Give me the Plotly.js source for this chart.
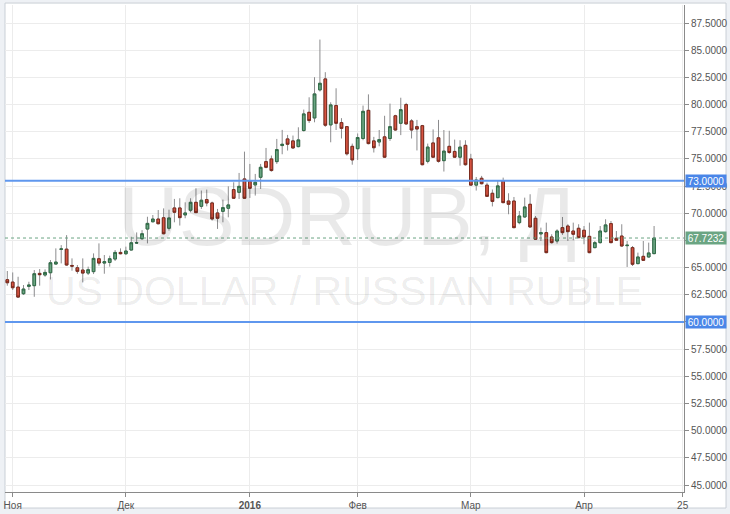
<!DOCTYPE html>
<html>
<head>
<meta charset="utf-8">
<script src="https://cdn.plot.ly/plotly-3.0.1.min.js"></script>
<style>html,body{margin:0;padding:0;background:#eef1f5;}#chart{width:730px;height:514px;}</style>
</head>
<body>
<div id="chart"></div>
<script>
// Daily USDRUB candles (trading days)
const dates = [
'2015-10-30',
'2015-11-02','2015-11-03','2015-11-04','2015-11-05','2015-11-06','2015-11-09','2015-11-10','2015-11-11','2015-11-12','2015-11-13',
'2015-11-16','2015-11-17','2015-11-18','2015-11-19','2015-11-20','2015-11-23','2015-11-24','2015-11-25','2015-11-26','2015-11-27','2015-11-30',
'2015-12-01','2015-12-02','2015-12-03','2015-12-04','2015-12-07','2015-12-08','2015-12-09','2015-12-10','2015-12-11','2015-12-14',
'2015-12-15','2015-12-16','2015-12-17','2015-12-18','2015-12-21','2015-12-22','2015-12-23','2015-12-24','2015-12-25','2015-12-28',
'2015-12-29','2015-12-30','2015-12-31',
'2016-01-04','2016-01-05','2016-01-06','2016-01-07','2016-01-08','2016-01-11','2016-01-12','2016-01-13','2016-01-14','2016-01-15',
'2016-01-18','2016-01-19','2016-01-20','2016-01-21','2016-01-22','2016-01-25','2016-01-26','2016-01-27','2016-01-28','2016-01-29',
'2016-02-01','2016-02-02','2016-02-03','2016-02-04','2016-02-05','2016-02-08','2016-02-09','2016-02-10','2016-02-11','2016-02-12',
'2016-02-15','2016-02-16','2016-02-17','2016-02-18','2016-02-19','2016-02-22','2016-02-23','2016-02-24','2016-02-25','2016-02-26','2016-02-29',
'2016-03-01','2016-03-02','2016-03-03','2016-03-04','2016-03-09','2016-03-10','2016-03-11','2016-03-14','2016-03-15','2016-03-16',
'2016-03-17','2016-03-18','2016-03-21','2016-03-22','2016-03-23','2016-03-24','2016-03-25','2016-03-28','2016-03-29','2016-03-30','2016-03-31',
'2016-04-01','2016-04-04','2016-04-05','2016-04-06','2016-04-07','2016-04-08','2016-04-11','2016-04-12','2016-04-13','2016-04-14',
'2016-04-15','2016-04-18','2016-04-19','2016-04-20'
];
const openP = [
63.89,63.67,63.21,62.60,63.28,63.34,64.47,64.32,64.53,65.33,
66.68,66.70,65.20,64.99,64.78,64.50,64.63,65.82,65.42,65.48,
65.79,66.40,66.28,66.62,67.26,67.66,68.55,69.22,69.47,69.59,
68.62,70.49,70.49,69.85,70.28,71.01,70.64,71.26,70.95,70.03,
70.18,70.46,72.18,71.93,73.16,72.94,72.61,73.31,74.75,75.00,
74.75,76.23,76.84,76.66,76.13,77.61,79.29,78.77,81.35,82.36,
78.13,79.91,78.34,77.97,76.16,75.94,76.88,79.47,76.66,76.56,
77.03,76.88,78.97,78.28,80.00,78.50,77.97,78.06,74.78,76.47,
76.94,74.84,76.16,75.69,75.16,76.25,75.00,72.59,73.22,72.59,
71.84,71.44,72.98,71.13,71.13,69.14,69.66,70.83,69.54,68.10,
68.22,67.82,67.45,68.68,68.83,68.37,68.62,68.44,67.88,66.84,
67.30,68.31,69.05,67.70,67.91,67.02,66.84,65.37,66.04,65.98,
66.29
];
const highP = [
64.69,64.56,64.16,63.40,63.70,64.78,64.87,64.84,65.70,66.77,
67.07,67.99,65.85,65.24,65.85,65.09,66.31,67.23,66.16,66.10,
66.62,66.77,66.93,67.84,68.24,68.45,69.68,69.84,70.30,70.45,
70.33,71.32,71.38,71.01,71.38,72.30,72.09,72.18,71.07,70.40,
71.26,72.48,72.85,73.71,75.67,74.54,73.62,74.54,76.01,75.31,
76.84,77.67,77.21,77.15,77.91,79.54,80.67,82.52,85.98,82.98,
80.21,81.50,78.75,78.03,76.41,77.34,79.91,80.94,77.03,77.66,
78.97,80.09,79.06,80.63,80.16,78.66,78.59,78.13,76.41,77.72,
78.59,77.66,77.59,76.78,76.72,76.72,75.47,73.34,73.44,72.81,
72.19,72.98,73.28,71.84,71.50,70.21,71.44,71.75,69.75,68.68,
69.14,68.07,68.53,69.66,68.99,69.14,68.99,68.83,69.14,67.45,
68.83,69.45,69.29,68.37,68.99,67.45,66.99,66.38,67.45,67.30,
68.83
];
const lowP = [
63.34,62.94,62.23,62.48,62.94,62.32,63.34,64.16,63.91,65.30,
65.39,65.17,64.72,64.44,63.64,64.32,64.41,65.18,64.44,65.09,
65.61,66.22,66.16,66.59,67.23,67.57,67.23,69.16,68.98,68.06,
68.40,69.17,68.87,69.54,70.09,70.03,70.40,70.64,69.33,68.56,
69.17,69.63,71.32,71.32,71.32,71.41,71.63,72.24,74.14,73.83,
74.54,75.43,75.77,75.92,76.07,77.52,78.31,78.37,81.20,77.95,
76.53,77.66,76.88,75.31,74.47,74.91,76.72,76.34,75.59,76.16,
75.09,76.66,77.59,77.19,78.13,76.88,75.78,74.41,74.59,75.09,
74.66,73.84,75.47,75.09,74.38,74.38,72.53,72.09,72.66,71.50,
70.63,71.38,70.92,69.91,68.62,68.99,69.60,68.68,67.55,67.45,
66.32,67.21,67.21,68.01,67.45,67.52,67.70,67.15,66.32,66.78,
67.21,68.22,67.24,67.45,66.93,65.06,65.15,65.31,65.61,65.92,
66.23
];
const closeP = [
63.61,63.15,62.29,63.03,63.40,64.44,64.35,64.56,65.45,65.51,
66.72,65.24,65.14,64.66,64.50,64.81,65.85,65.42,65.55,65.82,
66.40,66.28,66.53,67.29,67.29,68.12,69.07,69.47,69.04,68.12,
69.57,70.09,69.60,70.03,71.01,70.06,71.20,70.95,69.48,69.54,
70.52,70.77,71.38,72.48,71.38,72.30,72.85,74.23,74.23,73.93,
75.86,76.35,76.35,76.01,76.75,79.14,78.53,80.98,81.96,78.10,
79.97,78.28,77.81,75.47,74.91,76.97,79.38,76.41,76.03,76.78,
75.16,77.97,77.66,79.53,78.22,77.66,77.75,74.47,76.09,75.16,
74.78,75.72,75.59,75.16,76.09,74.47,72.59,73.06,72.72,71.56,
71.09,72.52,70.98,70.83,68.68,69.75,70.58,68.74,67.61,68.22,
66.38,67.30,68.37,68.22,68.31,68.07,67.76,67.82,66.38,67.30,
68.37,68.93,67.30,67.52,66.99,67.06,65.31,65.98,65.67,66.35,
67.7232
];
const monthTickDates = ['2015-11-02','2015-12-01','2016-01-04','2016-02-01','2016-03-01','2016-04-01'];
const monthTickText = ['Ноя','Дек','<b>2016</b>','Фев','Мар','Апр'];
const extraTickText = '25';
const priceTicks = [45, 47.5, 50, 52.5, 55, 57.5, 60, 62.5, 65, 67.5, 70, 72.5, 75, 77.5, 80, 82.5, 85, 87.5];
const levelLines = [73, 60];
const lastPrice = 67.7232;
const symbolTitle = 'USDRUB, Д';
const symbolName = 'US DOLLAR / RUSSIAN RUBLE';

const xIdx = dates.map((d, i) => i);
const bodyHigh = openP.map((o, i) => Math.max(o, closeP[i]));
const bodyLow = openP.map((o, i) => Math.min(o, closeP[i]));
const tickVals = monthTickDates.map(d => dates.indexOf(d)).concat([125.3]);
const tickText = monthTickText.concat([extraTickText]);
// tick labels fully covered by the price badges are left blank (as in the reference)
const priceTickText = priceTicks.map(v => (v === 60 || v === 67.5) ? '' : v.toFixed(4));

const UP = '#6ba583', DOWN = '#d75442', UPB = '#2f6b46', DOWNB = '#7a2a1d', WICK = '#8c8c8e';
const BLUE = '#4a86e8', BLUELINE = '#5f97ee';
const FONT = 'Liberation Sans, Arial, sans-serif';

const wicks = {
  type: 'candlestick', x: xIdx, open: openP, high: highP, low: lowP, close: closeP,
  increasing: {line: {color: WICK, width: 1}, fillcolor: UP},
  decreasing: {line: {color: WICK, width: 1}, fillcolor: DOWN},
  whiskerwidth: 0, hoverinfo: 'skip', showlegend: false
};
const bodies = {
  type: 'candlestick', x: xIdx, open: openP, high: bodyHigh, low: bodyLow, close: closeP,
  increasing: {line: {color: UPB, width: 1}, fillcolor: UP},
  decreasing: {line: {color: DOWNB, width: 1}, fillcolor: DOWN},
  whiskerwidth: 0, hoverinfo: 'skip', showlegend: false
};

const shapes = [
  {type: 'rect', xref: 'paper', yref: 'paper', x0: 0, x1: 1.0619, y0: -0.0329, y1: 1.004,
   fillcolor: '#ffffff', line: {color: '#c9cfd6', width: 1}, layer: 'below'}
];
levelLines.forEach(v => shapes.push({type: 'line', xref: 'paper', yref: 'y', x0: 0, x1: 1, y0: v, y1: v,
  line: {color: BLUELINE, width: 2}, layer: 'above'}));
shapes.push({type: 'line', xref: 'paper', yref: 'y', x0: 0, x1: 1, y0: lastPrice, y1: lastPrice,
  line: {color: UP, width: 1, dash: 'dot'}, layer: 'above'});

const annotations = [
  {xref: 'paper', yref: 'paper', x: 0.5037, y: 0.566, xanchor: 'center', yanchor: 'middle',
   text: symbolTitle, showarrow: false,
   font: {family: FONT, size: 84, color: 'rgba(0,0,0,0.085)'}},
  {xref: 'paper', yref: 'paper', x: 0.5007, y: 0.412, xanchor: 'center', yanchor: 'middle',
   text: symbolName, showarrow: false,
   font: {family: FONT, size: 41, color: 'rgba(0,0,0,0.085)'}}
];
levelLines.forEach(v => annotations.push({xref: 'paper', yref: 'y', x: 1.0015, y: v, xanchor: 'left', yanchor: 'middle',
  text: v.toFixed(4), showarrow: false, bgcolor: BLUE, width: 40, height: 12, borderpad: 0, align: 'center',
  font: {family: FONT, size: 10, color: '#ffffff'}}));
annotations.push({xref: 'paper', yref: 'y', x: 1.0015, y: lastPrice, xanchor: 'left', yanchor: 'middle',
  text: lastPrice.toFixed(4), showarrow: false, bgcolor: UP, width: 40, height: 12, borderpad: 0, align: 'center',
  font: {family: FONT, size: 10, color: '#ffffff'}});

const layout = {
  width: 730, height: 514,
  margin: {l: 5, r: 46, t: 5, b: 22, pad: 0},
  paper_bgcolor: '#eef1f5', plot_bgcolor: '#ffffff',
  showlegend: false,
  font: {family: FONT, size: 10, color: '#555555'},
  xaxis: {
    type: 'linear', range: [-0.43, 125.55], tickmode: 'array', tickvals: tickVals, ticktext: tickText,
    showgrid: true, gridcolor: '#ececec', zeroline: false,
    showline: true, linecolor: '#8a8a8a', linewidth: 1,
    ticks: 'outside', ticklen: 4, tickcolor: '#8a8a8a',
    tickfont: {size: 10, color: '#555555'},
    rangeslider: {visible: false}, fixedrange: true
  },
  yaxis: {
    side: 'right', range: [44.36, 89.16], tickmode: 'array', tickvals: priceTicks, ticktext: priceTickText,
    showgrid: true, gridcolor: '#ececec', zeroline: false,
    showline: true, linecolor: '#8a8a8a', linewidth: 1,
    ticks: 'outside', ticklen: 4, tickcolor: '#8a8a8a',
    tickfont: {size: 10, color: '#555555'}, fixedrange: true
  },
  shapes: shapes,
  annotations: annotations
};

Plotly.newPlot('chart', [wicks, bodies], layout, {displayModeBar: false, staticPlot: true});
</script>
</body>
</html>
